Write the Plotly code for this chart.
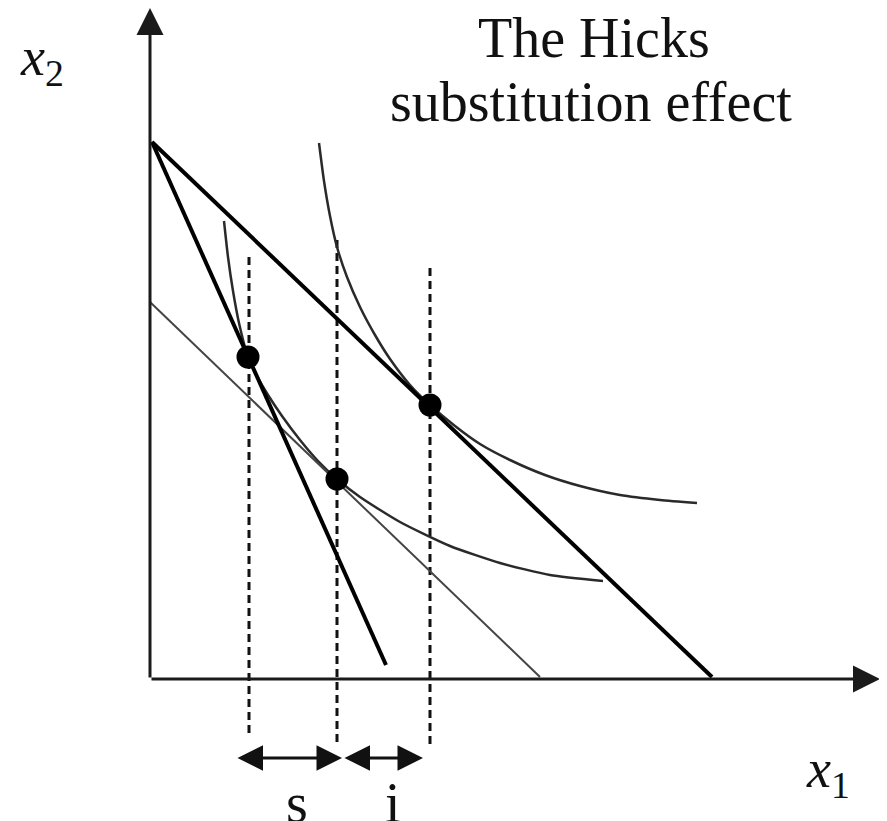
import plotly.graph_objects as go

# Data (diagram units, origin at the axes corner)
budget_x = [0.2, 56.2]
budget_y = [53.7, 0.2]
steep_x = [0.2, 23.6]
steep_y = [53.7, 1.4]
comp_x = [0.0, 39.0]
comp_y = [37.7, 0.2]

ic_high_x = [16.9, 17.4, 18.0, 18.7, 19.7, 21.0, 22.5, 24.0, 26.0, 28.0, 30.5, 33.0, 36.0, 39.5, 43.0, 47.0, 51.0, 54.7]
ic_high_y = [53.6, 49.8, 46.3, 43.2, 40.2, 37.2, 34.4, 32.0, 29.4, 27.4, 25.3, 23.5, 21.9, 20.4, 19.3, 18.4, 17.9, 17.6]
ic_low_x = [7.4, 7.8, 8.3, 8.9, 9.8, 10.7, 11.8, 13.2, 15.0, 16.8, 18.7, 21.0, 25.0, 30.0, 35.0, 40.0, 45.3]
ic_low_y = [45.8, 42.2, 38.8, 35.6, 32.2, 30.3, 28.4, 26.3, 23.9, 21.8, 20.0, 18.2, 15.7, 13.3, 11.6, 10.4, 9.8]

points_x = [9.8, 18.7, 28.0]
points_y = [32.2, 20.0, 27.4]

dash_x = [9.9, 18.7, 28.0]
dash_top = [42.2, 43.9, 41.1]
dash_bottom = [-5.8, -6.8, -6.8]

arrow_y = -7.9
s_range = [8.6, 19.2]
i_range = [19.3, 27.3]

x_axis_end = 73.0
y_axis_end = 67.1

title_lines = ["The Hicks", "substitution effect"]

fig = go.Figure()

for i in range(len(dash_x)):
    fig.add_trace(go.Scatter(x=[dash_x[i], dash_x[i]], y=[dash_top[i], dash_bottom[i]],
                             mode="lines", line=dict(color="#111", width=3, dash="8px,5px"),
                             hoverinfo="skip"))

fig.add_trace(go.Scatter(x=ic_high_x, y=ic_high_y, mode="lines",
                         line=dict(color="#2a2a2a", width=2.5, shape="spline", smoothing=0.6),
                         hoverinfo="skip"))
fig.add_trace(go.Scatter(x=ic_low_x, y=ic_low_y, mode="lines",
                         line=dict(color="#2a2a2a", width=2.5, shape="spline", smoothing=0.6),
                         hoverinfo="skip"))
fig.add_trace(go.Scatter(x=comp_x, y=comp_y, mode="lines",
                         line=dict(color="#444", width=2), hoverinfo="skip"))
fig.add_trace(go.Scatter(x=budget_x, y=budget_y, mode="lines",
                         line=dict(color="#000", width=4), hoverinfo="skip"))
fig.add_trace(go.Scatter(x=steep_x, y=steep_y, mode="lines",
                         line=dict(color="#000", width=4), hoverinfo="skip"))
fig.add_trace(go.Scatter(x=points_x, y=points_y, mode="markers",
                         marker=dict(color="#000", size=23), hoverinfo="skip"))

# axes with arrowheads
fig.add_annotation(x=x_axis_end, y=0, ax=0, ay=0, xref="x", yref="y", axref="x", ayref="y",
                   showarrow=True, arrowhead=2, arrowsize=1.8, arrowwidth=3, arrowcolor="#1a1a1a", text="")
fig.add_annotation(x=0, y=y_axis_end, ax=0, ay=0, xref="x", yref="y", axref="x", ayref="y",
                   showarrow=True, arrowhead=2, arrowsize=1.8, arrowwidth=3, arrowcolor="#1a1a1a", text="")

# s and i double arrows
for rng in (s_range, i_range):
    fig.add_annotation(x=rng[1], y=arrow_y, ax=rng[0], ay=arrow_y, xref="x", yref="y",
                       axref="x", ayref="y", showarrow=True, arrowhead=2, startarrowhead=2,
                       arrowside="end+start", arrowsize=1.7, startarrowsize=1.7, arrowwidth=3,
                       arrowcolor="#111", text="")

serif = "Liberation Serif"
fig.add_annotation(x=44.4, y=64.1, text=title_lines[0], showarrow=False,
                   font=dict(family=serif, size=56, color="#111"), xanchor="center", yanchor="middle")
fig.add_annotation(x=44.1, y=57.7, text=title_lines[1], showarrow=False,
                   font=dict(family=serif, size=56, color="#111"), xanchor="center", yanchor="middle")
fig.add_annotation(x=-10.8, y=61.9, text="<i>x</i><sub>2</sub>", showarrow=False,
                   font=dict(family=serif, size=54, color="#111"), xanchor="center", yanchor="middle")
fig.add_annotation(x=67.8, y=-9.3, text="<i>x</i><sub>1</sub>", showarrow=False,
                   font=dict(family=serif, size=54, color="#111"), xanchor="center", yanchor="middle")
fig.add_annotation(x=14.7, y=-12.4, text="s", showarrow=False,
                   font=dict(family=serif, size=56, color="#111"), xanchor="center", yanchor="middle")
fig.add_annotation(x=24.3, y=-12.4, text="i", showarrow=False,
                   font=dict(family=serif, size=56, color="#111"), xanchor="center", yanchor="middle")

# the page body has an 8px margin, so the figure is 8px smaller than the window
fig.update_layout(width=879, height=813, margin=dict(l=0, r=0, t=0, b=0),
                  paper_bgcolor="white", plot_bgcolor="white", showlegend=False,
                  xaxis=dict(range=[-14.2, 73.7], visible=False, fixedrange=True),
                  yaxis=dict(range=[-14.2, 67.1], visible=False, fixedrange=True))

fig.write_html("out.html", config={"displayModeBar": False})
